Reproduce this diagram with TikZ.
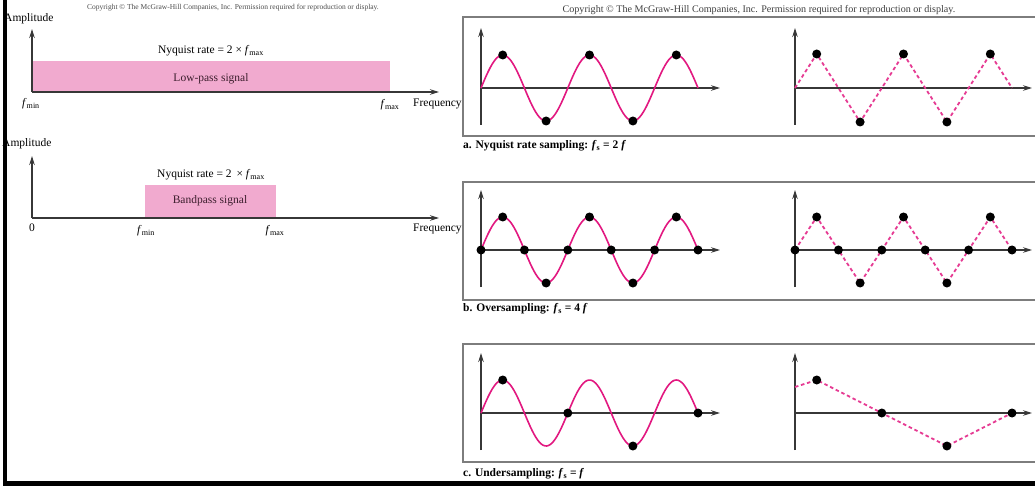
\documentclass[tikz,border=0pt]{standalone}
\usepackage{fontspec}
\setmainfont{Liberation Serif}
\usetikzlibrary{arrows.meta}
\definecolor{sigc}{RGB}{226,24,128}
\definecolor{bandc}{RGB}{241,170,207}
\definecolor{frmc}{RGB}{125,125,125}
\definecolor{axc}{RGB}{55,55,55}
\definecolor{inkc}{RGB}{60,30,45}
\newcommand\fsb[1]{\textit{f}\textsubscript{#1}}
\tikzset{
 axisline/.style={draw=axc, line width=1.2pt, -{Stealth[length=9pt,width=5.5pt]}},
 sigline/.style={draw=sigc, line width=1.6pt},
 dashsig/.style={draw=sigc!85, line width=1.8pt, dash pattern=on 3.5pt off 2.8pt},
 sdot/.style={circle, fill=black, inner sep=0pt, minimum size=9pt},
 framebox/.style={draw=frmc, line width=1.4pt},
 lbl/.style={font=\fontsize{11.5}{13}\selectfont, inner sep=0pt},
 captxt/.style={font=\bfseries\fontsize{11.5}{13}\selectfont, inner sep=0pt, anchor=west},
 band/.style={fill=bandc, draw=none},
}
\begin{document}
\begin{tikzpicture}[x=1pt,y=-1pt]
\useasboundingbox (0,0) rectangle (1035,486);
\fill[white] (0,0) rectangle (1035,486);
% ---------- left panel 1 ----------
\node[inner sep=0pt, font=\fontsize{7.5}{8}\selectfont, text=black!70] (cpl) at (233,8) {Copyright © The McGraw-Hill Companies, Inc. Permission required for reproduction or display.};
\node[band, minimum width=358pt, minimum height=31pt, inner sep=0pt, anchor=south west] (lp) at (32,92) {};
\node[lbl, text=inkc] (lpt) at (211,79) {Low-pass signal};
\node[lbl] (ny1) at (211,51) {Nyquist rate = 2 × \fsb{max}};
\coordinate (o1) at (32,92);
\coordinate (v1) at (32,29);
\coordinate (h1) at (439,92);
\draw[axisline] (o1) -- (v1);
\draw[axisline] (o1) -- (h1);
\node[lbl, anchor=west] (amp1) at (4,19) {Amplitude};
\node[lbl] (fmin1) at (31,104) {\fsb{min}};
\node[lbl] (fmax1) at (390,105) {\fsb{max}};
\node[lbl, anchor=west] (fr1) at (413,104) {Frequency};
% ---------- left panel 2 ----------
\node[band, minimum width=131pt, minimum height=33pt, inner sep=0pt, anchor=south west] (bp) at (145,218) {};
\node[lbl, text=inkc] (bpt) at (210,201) {Bandpass signal};
\node[lbl] (ny2) at (211,175) {Nyquist rate = 2 \,× \fsb{max}};
\coordinate (o2) at (32,218);
\coordinate (v2) at (32,156);
\coordinate (h2) at (439,218);
\draw[axisline] (o2) -- (v2);
\draw[axisline] (o2) -- (h2);
\node[lbl, anchor=west] (amp2) at (2,144) {Amplitude};
\node[lbl] (zero2) at (32,228) {0};
\node[lbl] (fmin2) at (146,231) {\fsb{min}};
\node[lbl] (fmax2) at (275,231) {\fsb{max}};
\node[lbl, anchor=west] (fr2) at (413,229) {Frequency};
% ---------- right panel ----------
\node[inner sep=0pt, font=\fontsize{10.1}{11}\selectfont, text=black!75] (cpr) at (759,10) {Copyright © The McGraw-Hill Companies, Inc. Permission required for reproduction or display.};
\foreach \tp/\bt in {17/136, 182/300, 344/462}{
  \draw[framebox] (1037,\tp) -- (463,\tp) -- (463,\bt) -- (1037,\bt);
}
\node[captxt] (capa) at (463,146) {a. Nyquist rate sampling: \fsb{s} = 2 \textit{f}};
\node[captxt] (capb) at (463,309) {b. Oversampling: \fsb{s} = 4 \textit{f}};
\node[captxt] (capc) at (463,474) {c. Undersampling: \fsb{s} = \textit{f}};
% axes and sines
\foreach \yo/\r in {88/a, 250/b, 413/c}{
  \coordinate (L\r o) at (481,\yo);
  \coordinate (L\r v) at (481,\yo-60);
  \coordinate (L\r h) at (720,\yo);
  \coordinate (L\r b) at (481,\yo+37);
  \coordinate (R\r o) at (795,\yo);
  \coordinate (R\r v) at (795,\yo-60);
  \coordinate (R\r h) at (1032,\yo);
  \coordinate (R\r b) at (795,\yo+37);
  \draw[axisline] (L\r b) -- (L\r v);
  \draw[axisline] (L\r o) -- (L\r h);
  \draw[axisline] (R\r b) -- (R\r v);
  \draw[axisline] (R\r o) -- (R\r h);
  \draw[sigline] plot[domain=481:698, samples=120, smooth] (\x, {\yo - 33*sin((\x-481)/86.8*360)});
}
% sample points: x = 481 + k*21.7
% row a (Nyquist)
\foreach \k in {1,3,5,7,9}{
  \node[sdot] (la\k) at ({481+\k*21.7},{88-33*sin(\k*90)}) {};
}
\foreach \k in {0,...,10}{
  \coordinate (ra\k) at ({795+\k*21.7},{88-34*sin(\k*90)});
}
\draw[dashsig] (ra0) -- (ra1) -- (ra3) -- (ra5) -- (ra7) -- (ra9) -- (ra10);
\foreach \k in {1,3,5,7,9}{
  \node[sdot] (rad\k) at (ra\k) {};
}
% row b (oversampling)
\foreach \k in {0,...,10}{
  \coordinate (rb\k) at ({795+\k*21.7},{250-33*sin(\k*90)});
}
\draw[dashsig] (rb0) -- (rb1) -- (rb3) -- (rb5) -- (rb7) -- (rb9) -- (rb10);
\foreach \k in {0,...,10}{
  \node[sdot] (lb\k) at ({481+\k*21.7},{250-33*sin(\k*90)}) {};
  \node[sdot] (rbd\k) at (rb\k) {};
}
% row c (undersampling)
\foreach \k in {1,4,7,10}{
  \node[sdot] (lc\k) at ({481+\k*21.7},{413-33*sin(\k*90)}) {};
}
\coordinate (rcs) at (795,387);
\foreach \k in {1,4,7,10}{
  \coordinate (rc\k) at ({795+\k*21.7},{413-33*sin(\k*90)});
}
\draw[dashsig] (rcs) -- (rc1) -- (rc4) -- (rc7) -- (rc10);
\foreach \k in {1,4,7,10}{
  \node[sdot] (rcd\k) at (rc\k) {};
}
% outer black border
\fill[black] (3,0) rectangle (7,486);
\fill[black] (3,481) rectangle (1035,486);
\end{tikzpicture}
\end{document}
